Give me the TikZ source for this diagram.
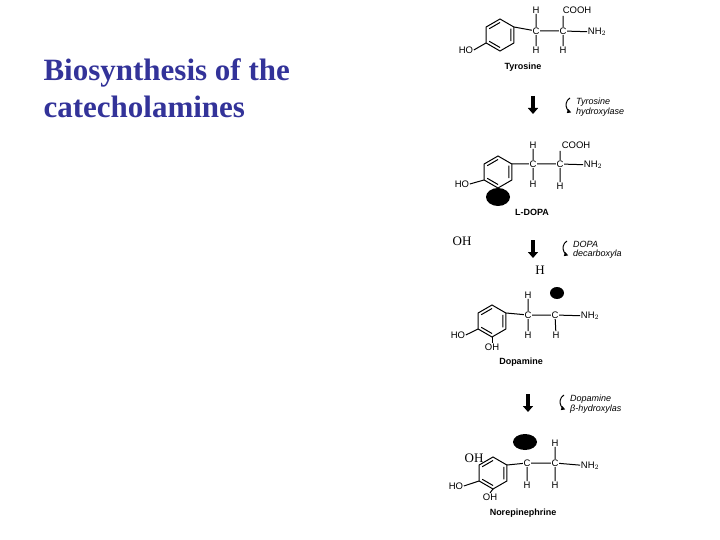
\documentclass[tikz,border=0pt]{standalone}
\usepackage{fontspec}
\setmainfont{Liberation Serif}
\setsansfont{Liberation Sans}
\usetikzlibrary{arrows.meta}
\begin{document}
\begin{tikzpicture}[x=1pt,y=-1pt,
  atm/.style={font=\sffamily\fontsize{9.5}{9.5}\selectfont,inner sep=0.5pt},
  lab/.style={font=\sffamily\bfseries\fontsize{9}{9}\selectfont},
  enz/.style={font=\sffamily\itshape\fontsize{9}{9.5}\selectfont,align=left,inner sep=0pt,anchor=west},
  ser/.style={font=\fontsize{13}{13}\selectfont},
  bond/.style={line width=1pt},
  blob/.style={fill=black,draw=none},
  big/.style={line width=3.5pt,-{Triangle[length=6pt,width=10pt]}},
  curv/.style={line width=1pt,-{Triangle[length=4pt,width=4pt]}},
  pics/ring/.style={code={
    \draw[bond] (30:16)--(90:16)--(150:16)--(210:16)--(270:16)--(330:16)--cycle;
    \draw[bond] (90:12.5)--(150:12.5) (210:12.5)--(270:12.5) (330:12.5)--(30:12.5);
  }}]
\useasboundingbox (0,0) rectangle (720,540);
\node[anchor=west,text={rgb,255:red,51;green,51;blue,153},font=\bfseries\fontsize{31}{37}\selectfont,align=left] (title) at (40,88) {Biosynthesis of the\\catecholamines};

% Tyrosine
\pic at (500,35) {ring};
\node[atm] (ho1) at (466,50) {HO};
\draw[bond] (ho1.east) -- (486,43);
\node[atm] (c11) at (536,31) {C};
\node[atm] (c12) at (563,31) {C};
\node[atm] (n1) at (597,32) {NH$_2$};
\node[atm] (h11) at (536,10) {H};
\node[atm] (h12) at (536,50) {H};
\node[atm] (co1) at (577,10) {COOH};
\node[atm] (h13) at (563,50) {H};
\draw[bond] (514,27)--(c11) (c11)--(c12) (c12)--(n1) (h11)--(c11)--(h12) (c12)--(563,16) (c12)--(h13);
\node[lab] (l1) at (523,67) {Tyrosine};
\draw[big] (533,96)--(533,114);
\node[enz] (e1) at (576,107) {Tyrosine\\hydroxylase};
\draw[curv] (570,98) arc[start angle=240,end angle=110,radius=8];

% L-DOPA
\pic at (498,172) {ring};
\node[atm] (ho2) at (462,184) {HO};
\draw[bond] (ho2.east) -- (484,180);
\node[atm] (c21) at (533,164) {C};
\node[atm] (c22) at (560,164) {C};
\node[atm] (n2) at (593,165) {NH$_2$};
\node[atm] (h21) at (533,145) {H};
\node[atm] (co2) at (576,145) {COOH};
\node[atm] (h22) at (533,184) {H};
\node[atm] (h23) at (560,186) {H};
\draw[bond] (512,164)--(c21) (c21)--(c22) (c22)--(n2) (h21)--(c21)--(h22) (c22)--(560,151) (c22)--(h23);
\fill[blob] (498,197) ellipse[x radius=12,y radius=9];
\node[lab] (l2) at (532,212) {L-DOPA};
\draw[big] (533,240)--(533,258);
\node[enz] (e2) at (573,250) {DOPA\\decarboxyla};
\draw[curv] (567,241) arc[start angle=240,end angle=110,radius=8];
\node[ser] (oh2) at (462,241) {OH};
\node[ser] (hh2) at (540,270) {H};

% Dopamine
\pic at (492,321) {ring};
\node[atm] (ho3) at (458,335) {HO};
\draw[bond] (ho3.east) -- (478,329);
\node[atm] (oh3) at (492,347) {OH};
\draw[bond] (492,337) -- (oh3.north);
\node[atm] (c31) at (528,315) {C};
\node[atm] (c32) at (555,315) {C};
\node[atm] (n3) at (590,316) {NH$_2$};
\node[atm] (h31) at (528,295) {H};
\node[atm] (h32) at (528,335) {H};
\node[atm] (h33) at (556,335) {H};
\draw[bond] (506,313)--(c31) (c31)--(c32) (c32)--(n3) (h31)--(c31)--(h32) (c32)--(h33);
\fill[blob] (557,293) ellipse[x radius=7,y radius=6];
\node[lab] (l3) at (521,362) {Dopamine};
\draw[big] (528,394)--(528,412);
\node[enz] (e3) at (570,404) {Dopamine\\β-hydroxylas};
\draw[curv] (564,395) arc[start angle=240,end angle=110,radius=8];

% Norepinephrine
\pic at (493,473) {ring};
\node[atm] (ho4) at (456,486) {HO};
\draw[bond] (ho4.east) -- (479,481);
\node[atm] (oh4) at (490,497) {OH};
\draw[bond] (493,489) -- (oh4.north);
\node[ser] (oh4s) at (474,458) {OH};
\node[atm] (c41) at (527,463) {C};
\node[atm] (c42) at (555,463) {C};
\node[atm] (n4) at (590,466) {NH$_2$};
\node[atm] (h41) at (555,443) {H};
\node[atm] (h42) at (527,485) {H};
\node[atm] (h43) at (555,485) {H};
\draw[bond] (507,465)--(c41) (c41)--(c42) (c42)--(n4) (h41)--(c42)--(h43) (c41)--(h42);
\fill[blob] (525,442) ellipse[x radius=12,y radius=8];
\node[lab] (l4) at (523,513) {Norepinephrine};
\end{tikzpicture}
\end{document}
